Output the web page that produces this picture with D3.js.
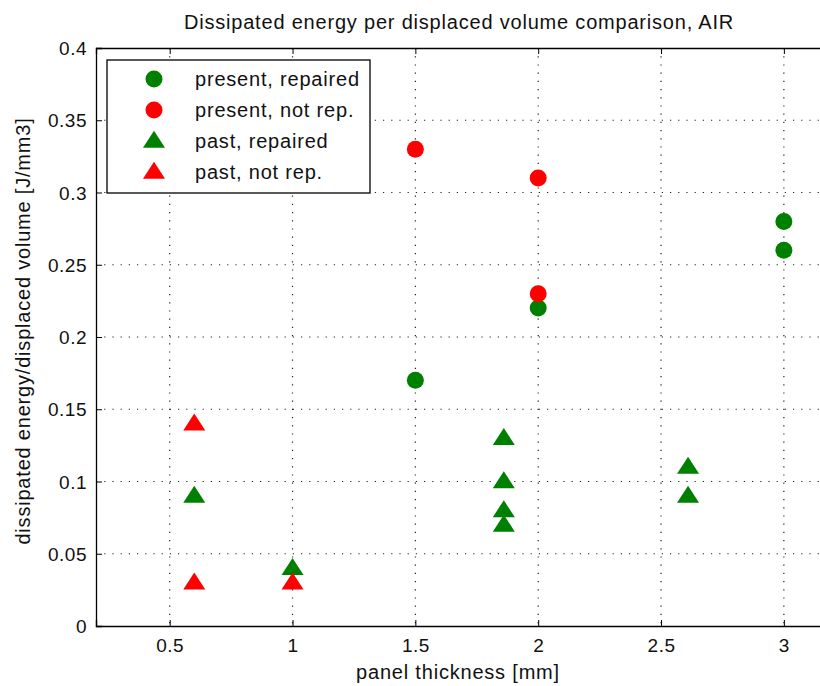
<!DOCTYPE html>
<html>
<head>
<meta charset="utf-8">
<script src="https://cdn.jsdelivr.net/npm/d3@7"></script>
<style>
  body { margin: 0; background: #fff; }
  svg text { font-family: "Liberation Sans", Arial, sans-serif; fill: #111; }
</style>
</head>
<body>
<div id="chart"></div>
<script>
// data
const seriesNames = ["present, repaired", "present, not rep.", "past, repaired", "past, not rep."];
const seriesColors = ["#008000", "#ff0000", "#008000", "#ff0000"];
const seriesShapes = ["circle", "circle", "triangle", "triangle"];

const presentRepX = [1.5, 2, 3, 3];
const presentRepY = [0.17, 0.22, 0.28, 0.26];
const presentNotX = [1.5, 2, 2];
const presentNotY = [0.33, 0.31, 0.23];
const pastRepX = [0.6, 1, 1.86, 1.86, 1.86, 1.86, 2.61, 2.61];
const pastRepY = [0.09, 0.04, 0.13, 0.10, 0.08, 0.07, 0.11, 0.09];
const pastNotX = [0.6, 0.6, 1];
const pastNotY = [0.14, 0.03, 0.03];

const xTicks = [0.5, 1, 1.5, 2, 2.5, 3];
const yTicks = [0, 0.05, 0.1, 0.15, 0.2, 0.25, 0.3, 0.35, 0.4];

const width = 820, height = 686;
const margin = {left: 96, top: 48, right: 833, bottom: 626};

const svg = d3.select("#chart").append("svg")
    .attr("width", width)
    .attr("height", height);

const x = d3.scaleLinear().domain([0.2, 3.2]).range([margin.left, margin.right]);
const y = d3.scaleLinear().domain([0, 0.4]).range([margin.bottom, margin.top]);

// dotted grid
svg.append("g").selectAll("line.gx")
    .data(xTicks).enter().append("line")
    .attr("x1", d => x(d)).attr("x2", d => x(d))
    .attr("y1", margin.top).attr("y2", margin.bottom)
    .attr("stroke", "#222").attr("stroke-width", 1.2)
    .attr("stroke-dasharray", "1.2,7");
svg.append("g").selectAll("line.gy")
    .data(yTicks.slice(1, -1)).enter().append("line")
    .attr("x1", margin.left).attr("x2", margin.right)
    .attr("y1", d => y(d)).attr("y2", d => y(d))
    .attr("stroke", "#222").attr("stroke-width", 1.2)
    .attr("stroke-dasharray", "1.2,7");

// axes (ticks pointing inward like matlab)
const fmt = d => d === 0 ? "0" : String(d);
const xAxis = svg.append("g")
    .attr("transform", `translate(0,${margin.bottom})`)
    .call(d3.axisBottom(x).tickValues(xTicks).tickSize(-6).tickPadding(13).tickFormat(fmt));
const xTop = svg.append("g")
    .attr("transform", `translate(0,${margin.top})`)
    .call(d3.axisTop(x).tickValues(xTicks).tickSize(-6).tickFormat(""));
const yAxis = svg.append("g")
    .attr("transform", `translate(${margin.left},0)`)
    .call(d3.axisLeft(y).tickValues(yTicks).tickSize(-6).tickPadding(9).tickFormat(fmt));

[xAxis, xTop, yAxis].forEach(g => {
    g.select(".domain").attr("stroke", "#000").attr("stroke-width", 1.3);
    g.selectAll(".tick line").attr("stroke", "#000");
    g.selectAll("text").style("font-size", "19px").style("letter-spacing", "0.5px").attr("fill", "#111");
});
yAxis.selectAll(".tick text").attr("dy", "0.35em");

// markers: matlab-style flat triangle (about 22 wide, 17 tall)
const flatTriangle = {
    draw(ctx, size) {
        const w = Math.sqrt(size) * 1.6, h = w * 0.77;
        ctx.moveTo(0, -h * 0.6);
        ctx.lineTo(w / 2, h * 0.4);
        ctx.lineTo(-w / 2, h * 0.4);
        ctx.closePath();
    }
};
const triangle = d3.symbol().type(flatTriangle).size(190);
function drawSeries(xs, ys, i) {
    const pts = xs.map((v, k) => [v, ys[k]]);
    const g = svg.append("g");
    if (seriesShapes[i] === "circle") {
        g.selectAll("circle").data(pts).enter().append("circle")
            .attr("cx", d => x(d[0])).attr("cy", d => y(d[1]))
            .attr("r", 8.5)
            .attr("fill", seriesColors[i]);
    } else {
        g.selectAll("path").data(pts).enter().append("path")
            .attr("d", triangle)
            .attr("transform", d => `translate(${x(d[0])},${y(d[1])})`)
            .attr("fill", seriesColors[i]);
    }
}
drawSeries(presentRepX, presentRepY, 0);
drawSeries(presentNotX, presentNotY, 1);
drawSeries(pastRepX, pastRepY, 2);
drawSeries(pastNotX, pastNotY, 3);

// legend
const legend = svg.append("g").attr("transform", "translate(107,60)");
legend.append("rect")
    .attr("width", 263).attr("height", 133)
    .attr("fill", "#fff").attr("stroke", "#000").attr("stroke-width", 1.3);
seriesNames.forEach((name, i) => {
    const row = legend.append("g").attr("transform", `translate(0,${19 + i * 31})`);
    if (seriesShapes[i] === "circle") {
        row.append("circle").attr("cx", 47).attr("cy", 0).attr("r", 8.5).attr("fill", seriesColors[i]);
    } else {
        row.append("path").attr("d", triangle)
            .attr("transform", "translate(47,0)")
            .attr("fill", seriesColors[i]);
    }
    row.append("text").attr("x", 88).attr("y", 0).attr("dy", "0.35em")
        .style("font-size", "20px").style("letter-spacing", "0.8px").text(name);
});

// title and axis labels
svg.append("text")
    .attr("x", 459).attr("y", 29)
    .attr("text-anchor", "middle")
    .style("font-size", "20px").style("letter-spacing", "0.8px")
    .text("Dissipated energy per displaced volume comparison, AIR");

svg.append("text")
    .attr("x", 458).attr("y", 679)
    .attr("text-anchor", "middle")
    .style("font-size", "20px").style("letter-spacing", "0.8px")
    .text("panel thickness [mm]");

svg.append("text")
    .attr("transform", "translate(30,331) rotate(-90)")
    .attr("text-anchor", "middle")
    .style("font-size", "20px").style("letter-spacing", "0.8px")
    .text("dissipated energy/displaced volume [J/mm3]");
</script>
</body>
</html>
